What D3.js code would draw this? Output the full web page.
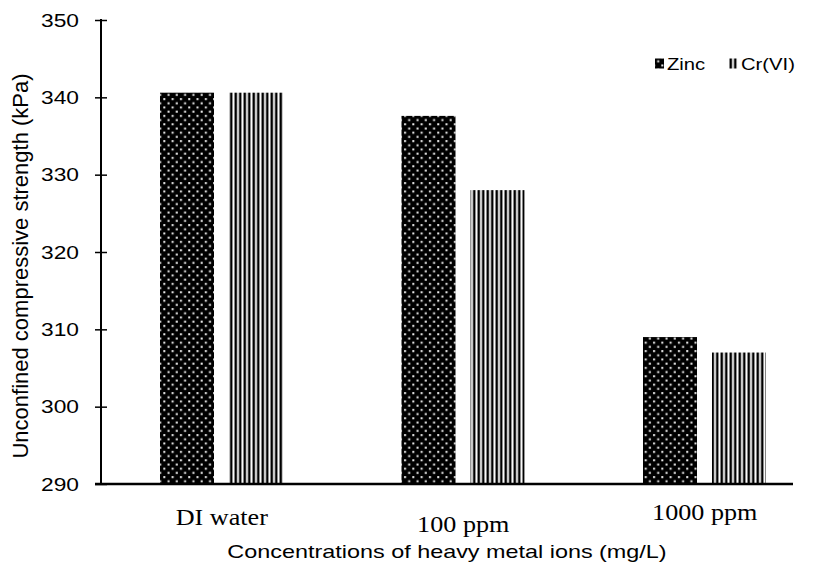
<!DOCTYPE html>
<html><head><meta charset="utf-8">
<script src="https://cdn.jsdelivr.net/npm/d3@7"></script>
<style>body{margin:0;background:#fff}</style>
</head><body><svg id="c" width="814" height="565"></svg>
<script>
const categories = ["DI water", "100 ppm", "1000 ppm"];
const seriesNames = ["Zinc", "Cr(VI)"];
const zinc = [340.6, 337.6, 309.0];
const chromium = [340.6, 328.0, 307.0];
const yTicks = [290, 300, 310, 320, 330, 340, 350];
const labelDy = [0, 7, -5];

const SANS = "Liberation Sans, Arial, sans-serif";
const SERIF = "Liberation Serif, Times New Roman, serif";
const svg = d3.select("#c");
const defs = svg.append("defs");
const pz = defs.append("pattern").attr("id","dots").attr("patternUnits","userSpaceOnUse")
  .attr("width",8.3).attr("height",8.4);
pz.append("rect").attr("width",8.3).attr("height",8.4).attr("fill","#000");
pz.append("rect").attr("x",1.5).attr("y",1.5).attr("width",2).attr("height",2).attr("fill","#eee");
pz.append("rect").attr("x",5.65).attr("y",5.7).attr("width",2).attr("height",2).attr("fill","#eee");
const ps = defs.append("pattern").attr("id","stripes").attr("patternUnits","userSpaceOnUse")
  .attr("width",4.5).attr("height",10);
ps.append("rect").attr("width",4.5).attr("height",10).attr("fill","#fff");
ps.append("rect").attr("x",0.5).attr("width",2.5).attr("height",10).attr("fill","#000");
const fills = ["url(#dots)", "url(#stripes)"];

const x0 = 101, x1 = 825.5, yTop = 20, yBot = 484;
const x = d3.scaleBand().domain(categories).range([x0, x1]);
const y = d3.scaleLinear().domain([290, 350]).range([yBot, yTop]);
const barW = 54, gap = 15, inset = 59;

function stext(px, py, sx, txt, size, family, anchor){
  return svg.append("text").attr("transform",`translate(${px},${py}) scale(${sx},1)`)
    .attr("text-anchor",anchor).attr("font-family",family).attr("font-size",size).text(txt);
}

const data = categories.map((c,i)=>({c, vals:[zinc[i], chromium[i]]}));
data.forEach(d=>{
  d.vals.forEach((v,j)=>{
    svg.append("rect")
      .attr("x", x(d.c) + inset + j*(barW+gap))
      .attr("y", y(v)).attr("width", barW).attr("height", y(290)-y(v))
      .attr("fill", fills[j]);
  });
});

// y axis
const ya = svg.append("g").attr("transform",`translate(${x0},0)`)
  .call(d3.axisLeft(y).tickValues(yTicks).tickSize(0).tickFormat(""));
ya.select(".domain").remove();
ya.selectAll(".tick").append("line").attr("x1",-6).attr("x2",6).attr("stroke","#000").attr("stroke-width",1.5);
yTicks.forEach(t=>stext(79, y(t)+6.8, 1.23, t, 18.5, SANS, "end"));
svg.append("line").attr("x1",x0).attr("x2",x0).attr("y1",yTop-1).attr("y2",yBot).attr("stroke","#000").attr("stroke-width",2);
// x axis
svg.append("line").attr("x1",95).attr("x2",793).attr("y1",yBot).attr("y2",yBot).attr("stroke","#000").attr("stroke-width",2.5);

// category labels
categories.forEach((c,i)=>{
  stext(x(c)+x.bandwidth()/2, 525+labelDy[i], 1.09, c, 24, SERIF, "middle");
});

stext(447, 558, 1.3, "Concentrations of heavy metal ions (mg/L)", 18, SANS, "middle");
svg.append("text").attr("transform","translate(28,266) rotate(-90)").attr("text-anchor","middle")
  .attr("font-family",SANS).attr("font-size",22)
  .text("Unconfined compressive strength (kPa)");

// legend
const legX = [655, 729];
seriesNames.forEach((s,j)=>{
  svg.append("rect").attr("x",legX[j]).attr("y",58.5).attr("width",9).attr("height",10).attr("fill",fills[j]);
  stext(legX[j]+12, 70, 1.19, s, 17, SANS, "start");
});
</script></body></html>
